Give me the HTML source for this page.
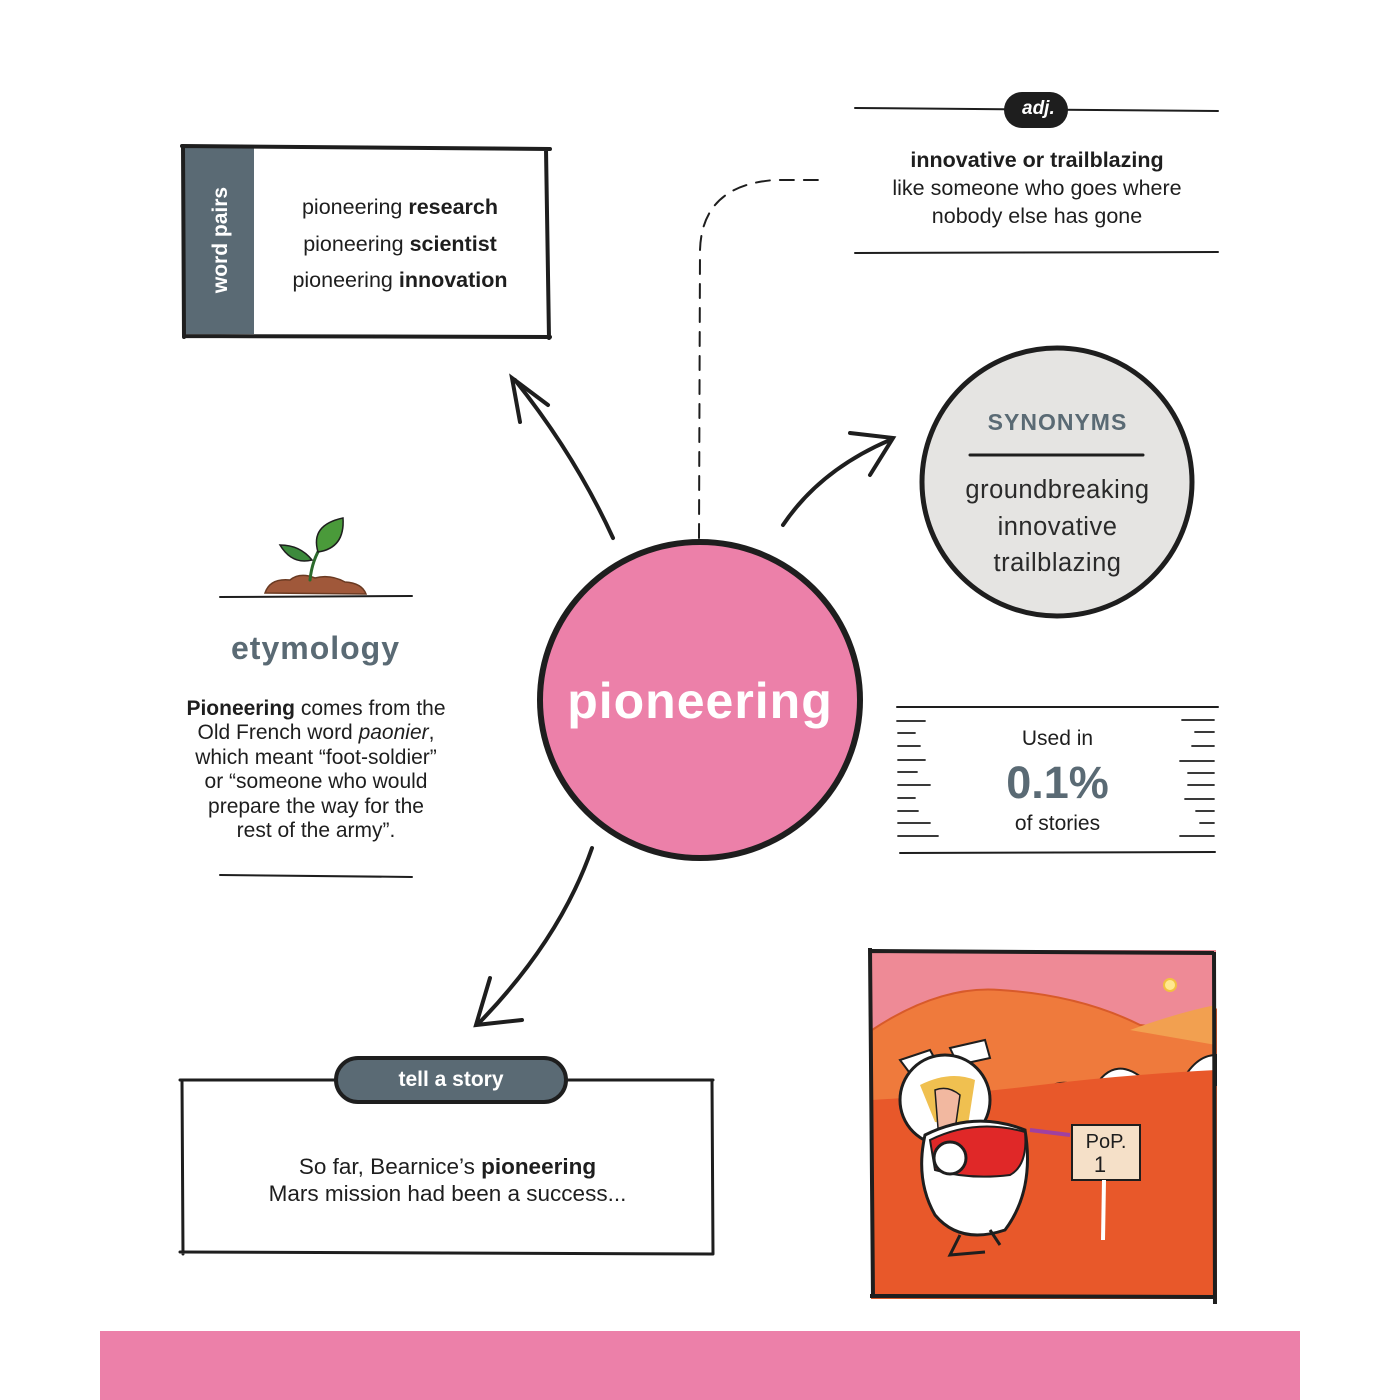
<!DOCTYPE html>
<html><head><meta charset="utf-8"><style>
html,body{margin:0;padding:0;background:#fff}
body{width:1400px;height:1400px;position:relative;overflow:hidden;font-family:"Liberation Sans","DejaVu Sans",sans-serif;color:#1e1e1e}
.t{position:absolute;text-align:center;white-space:nowrap}
svg{position:absolute;left:0;top:0}
</style></head><body>
<svg width="1400" height="1400" viewBox="0 0 1400 1400">
<g fill="none" stroke="#1e1e1e" stroke-linecap="round">
<rect x="184" y="148" width="70" height="186" fill="#5a6a74" stroke="none"/>
<path d="M182 146 L550 149 M183 146 L184 337 M184 336 L550 337 M546 149 L549 338" stroke-width="4"/>
<path d="M855 108 L1218 111 M855 253 L1218 252" stroke-width="2"/>
<rect x="1004" y="92" width="64" height="36" rx="18" fill="#1e1e1e" stroke="none"/>
<path d="M699 538 L700 250 Q702 185 775 180 L822 180" stroke-width="2" stroke-dasharray="14 10"/>
<ellipse cx="1057" cy="482" rx="135" ry="134" fill="#e5e4e2" stroke-width="5"/>
<path d="M970 455 L1143 455" stroke-width="3"/>
<ellipse cx="700" cy="700" rx="160" ry="158" fill="#ec80a9" stroke-width="6"/>
<path d="M613 538 Q575 455 515 380" stroke-width="4"/>
<path d="M548 405 L512 378 L520 422" stroke-width="4"/>
<path d="M783 525 Q820 470 890 440" stroke-width="4"/>
<path d="M850 433 L893 438 L870 475" stroke-width="4"/>
<path d="M592 848 Q560 940 478 1024" stroke-width="4"/>
<path d="M490 978 L476 1025 L522 1020" stroke-width="4"/>
<path d="M220 597 L412 596 M220 875 L412 877" stroke-width="2"/>
<path d="M265 593 Q270 578 290 580 Q300 572 315 578 Q330 574 345 582 Q362 583 366 594 Z" fill="#a0583a" stroke="#6a3a22" stroke-width="1.5"/>
<path d="M310 580 Q312 560 322 545" stroke="#2c6a2c" stroke-width="3"/>
<path d="M312 560 Q300 545 280 545 Q292 565 312 560 Z" fill="#3c8a3c" stroke="#1e1e1e" stroke-width="1.5"/>
<path d="M318 552 Q310 525 343 518 Q345 548 318 552 Z" fill="#4a9a3a" stroke="#1e1e1e" stroke-width="1.5"/>
<path d="M897 707 L1218 707 M900 853 L1215 852" stroke-width="2"/>
<path d="M897 721 L925 721 M898 733 L915 733 M898 746 L920 746 M898 760 L925 760 M898 772 L917 772 M898 785 L930 785 M898 798 L915 798 M898 811 L918 811 M898 823 L930 823 M898 836 L938 836" stroke-width="1.8"/>
<path d="M1182 720 L1214 720 M1195 732 L1214 732 M1192 746 L1214 746 M1180 761 L1214 761 M1188 773 L1214 773 M1188 785 L1214 785 M1185 799 L1214 799 M1196 811 L1214 811 M1200 823 L1214 823 M1180 836 L1214 836" stroke-width="1.8"/>
<path d="M180 1080 L713 1080 M182 1080 L183 1254 M180 1252 L713 1254 M712 1080 L713 1254" stroke-width="3"/>
<rect x="336" y="1058" width="230" height="44" rx="22" fill="#5a6a74" stroke-width="4"/>
</g>
<g>
<rect x="872" y="950" width="344" height="348" fill="#ee8a96"/>
<path d="M872 1030 Q940 985 1000 990 Q1080 995 1140 1025 Q1180 1030 1216 1010 L1216 1298 L872 1298 Z" fill="#ef7a3c" stroke="#d85a2a" stroke-width="2"/>
<path d="M1130 1030 Q1180 1012 1216 1005 L1216 1045 Z" fill="#f2a050"/>
<path d="M1035 1100 Q1060 1070 1085 1092 L1035 1100 Z M1093 1090 Q1115 1050 1150 1085 Z M1180 1085 Q1195 1055 1216 1055 L1216 1085 Z" fill="#fff" stroke="#1e1e1e" stroke-width="2"/>
<path d="M872 1100 Q960 1095 1040 1085 Q1120 1075 1216 1070 L1216 1298 L872 1298 Z" fill="#e8582a"/>
<circle cx="1170" cy="985" r="6" fill="#ffe890" stroke="#f2c040" stroke-width="2"/>
<path d="M915 1080 L900 1060 L930 1050 L940 1068 Z M958 1065 L950 1048 L985 1040 L990 1058 Z" fill="#fff" stroke="#1e1e1e" stroke-width="2"/>
<ellipse cx="945" cy="1100" rx="45" ry="45" fill="#fff" stroke="#1e1e1e" stroke-width="3"/>
<path d="M920 1085 Q950 1070 975 1080 L968 1125 L935 1122 Z" fill="#f0c050"/>
<path d="M935 1090 Q948 1085 960 1095 L955 1130 L938 1128 Z" fill="#f2b8a0" stroke="#1e1e1e" stroke-width="1.5"/>
<path d="M925 1135 Q975 1110 1025 1130 Q1035 1190 1005 1230 Q960 1245 935 1215 Q915 1180 925 1135 Z" fill="#fff" stroke="#1e1e1e" stroke-width="3"/>
<path d="M930 1140 Q975 1118 1025 1132 Q1028 1165 1010 1175 Q970 1180 935 1170 Z" fill="#e02828" stroke="#1e1e1e" stroke-width="2"/>
<circle cx="950" cy="1158" r="16" fill="#fff" stroke="#1e1e1e" stroke-width="3"/>
<path d="M960 1235 L950 1255 L985 1252 M990 1230 L1000 1245" stroke="#1e1e1e" stroke-width="3" fill="none"/>
<rect x="1072" y="1125" width="68" height="55" fill="#f5e0c8" stroke="#1e1e1e" stroke-width="2"/>
<path d="M1104 1180 L1103 1240" stroke="#fff" stroke-width="4"/>
<path d="M1030 1130 L1070 1135" stroke="#a040a0" stroke-width="4"/>
<path d="M870 948 L873 1298 M870 1296 L1214 1297 M1214 952 L1215 1304 M872 951 L1214 953" stroke="#1e1e1e" stroke-width="4" fill="none"/>
<text x="1106" y="1148" font-family="Liberation Sans,sans-serif" font-size="20" text-anchor="middle" fill="#1e1e1e">PoP.</text>
<text x="1100" y="1172" font-family="Liberation Sans,sans-serif" font-size="22" text-anchor="middle" fill="#1e1e1e">1</text>
</g>
<rect x="100" y="1331" width="1200" height="69" fill="#ec80a9"/>
</svg>

<div class="t" style="transform-origin:0 0;transform:rotate(-90deg);font-size:21px;font-weight:bold;color:#fff;width:140px;left:209px;top:310px">word pairs</div>
<div class="t" style="left:255px;top:189px;width:290px;font-size:21.5px;line-height:36.5px">pioneering <b>research</b><br>pioneering <b>scientist</b><br>pioneering <b>innovation</b></div>

<div class="t" style="left:1022px;top:98px;width:30px;font-size:19px;font-weight:bold;font-style:italic;color:#fff">adj.</div>
<div class="t" style="left:860px;top:146px;width:354px;font-size:21.5px;line-height:28px"><b>innovative or trailblazing</b><br>like someone who goes where<br>nobody else has gone</div>

<div class="t" style="left:960px;top:409px;width:195px;font-size:23px;font-weight:bold;color:#5a6a74;letter-spacing:1px">SYNONYMS</div>
<div class="t" style="left:940px;top:472px;width:235px;font-size:25.5px;line-height:36.5px;color:#2a2a2a;letter-spacing:0.5px">groundbreaking<br>innovative<br>trailblazing</div>

<div class="t" style="left:545px;top:672px;width:310px;font-size:50px;font-weight:bold;color:#fff;letter-spacing:1px">pioneering</div>

<div class="t" style="left:218px;top:630px;width:195px;font-size:32px;font-weight:bold;color:#5a6a74;letter-spacing:1px">etymology</div>
<div class="t" style="left:156px;top:697px;width:320px;font-size:21px;line-height:24.4px"><b>Pioneering</b> comes from the<br>Old French word <i>paonier</i>,<br>which meant “foot-soldier”<br>or “someone who would<br>prepare the way for the<br>rest of the army”.</div>

<div class="t" style="left:960px;top:727px;width:195px;font-size:21px">Used in</div>
<div class="t" style="left:960px;top:757px;width:195px;font-size:45px;font-weight:bold;color:#5a6a74">0.1%</div>
<div class="t" style="left:960px;top:812px;width:195px;font-size:21px">of stories</div>

<div class="t" style="left:336px;top:1068px;width:230px;font-size:21px;font-weight:bold;color:#fff">tell a story</div>
<div class="t" style="left:170px;top:1153px;width:555px;font-size:22.5px;line-height:27px">So far, Bearnice’s <b>pioneering</b><br>Mars mission had been a success...</div>
</body></html>
